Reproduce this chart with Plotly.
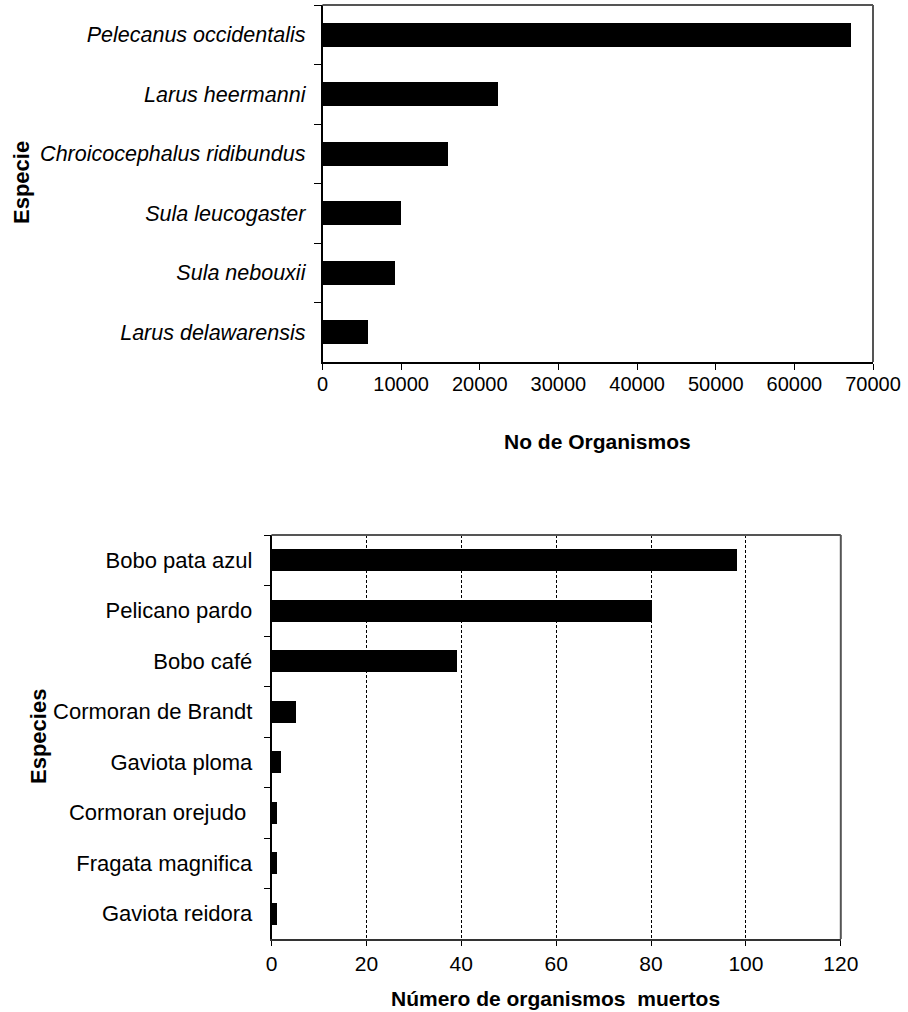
import plotly.graph_objects as go

# Upper panel: total organisms per species
especies_sup = [
    "Pelecanus occidentalis",
    "Larus heermanni",
    "Chroicocephalus ridibundus",
    "Sula leucogaster",
    "Sula nebouxii",
    "Larus delawarensis",
]
organismos_sup = [67100, 22200, 15900, 9900, 9200, 5700]
ticks_sup = [0, 10000, 20000, 30000, 40000, 50000, 60000, 70000]

# Lower panel: dead organisms per species
especies_inf = [
    "Bobo pata azul",
    "Pelicano pardo",
    "Bobo café",
    "Cormoran de Brandt",
    "Gaviota ploma",
    "Cormoran orejudo\u00a0",
    "Fragata magnifica",
    "Gaviota reidora",
]
muertos_inf = [98, 80, 39, 5, 2, 1, 1, 1]
ticks_inf = [0, 20, 40, 60, 80, 100, 120]

W, H = 908, 1012
FONT = "Liberation Sans, Arial, sans-serif"


def px_x(v):
    return v / W


def px_y(v):
    return 1 - v / H


fig = go.Figure()

fig.add_trace(go.Bar(
    x=organismos_sup, y=especies_sup, orientation="h",
    marker=dict(color="black", line=dict(width=0)),
    width=0.40, xaxis="x", yaxis="y", showlegend=False,
))
fig.add_trace(go.Bar(
    x=muertos_inf, y=especies_inf, orientation="h",
    marker=dict(color="black", line=dict(width=0)),
    width=0.44, xaxis="x2", yaxis="y2", showlegend=False,
))

fig.update_layout(
    width=W, height=H, autosize=False,
    margin=dict(l=0, r=0, t=0, b=0, pad=0),
    paper_bgcolor="white", plot_bgcolor="white",
    font=dict(family=FONT, color="black"),
    bargap=0,
    xaxis=dict(
        domain=[px_x(322.5), px_x(873)], anchor="y", automargin=False,
        range=[0, 70000], tickvals=ticks_sup,
        ticktext=[str(t) for t in ticks_sup],
        ticks="outside", ticklen=6, tickwidth=1.2, tickcolor="black",
        showline=True, linecolor="black", linewidth=1.5,
        showgrid=False, zeroline=False,
        ticklabelstandoff=-3,
        tickfont=dict(size=20, family=FONT),
    ),
    yaxis=dict(
        domain=[px_y(362), px_y(5)], anchor="x", automargin=False,
        type="category", categoryorder="array", categoryarray=especies_sup,
        range=[len(especies_sup) - 0.5, -0.5],
        tickson="boundaries", ticks="outside", ticklen=7, tickwidth=1.2,
        tickcolor="black",
        showline=True, linecolor="black", linewidth=1.5,
        showgrid=False, zeroline=False,
        ticklabelstandoff=11,
        tickfont=dict(size=21.5, family=FONT, style="italic"),
    ),
    xaxis2=dict(
        domain=[px_x(271.5), px_x(840.8)], anchor="y2", automargin=False,
        range=[0, 120], tickvals=ticks_inf,
        ticktext=[str(t) for t in ticks_inf],
        ticks="outside", ticklen=5, tickwidth=1.2, tickcolor="black",
        showline=True, linecolor="#333333", linewidth=2,
        showgrid=True, gridcolor="black", gridwidth=1, griddash="3px,2px",
        zeroline=False,
        tickfont=dict(size=21, family=FONT),
    ),
    yaxis2=dict(
        domain=[px_y(939), px_y(535)], anchor="x2", automargin=False,
        type="category", categoryorder="array", categoryarray=especies_inf,
        range=[len(especies_inf) - 0.5, -0.5],
        tickson="boundaries", ticks="outside", ticklen=6, tickwidth=1.2,
        tickcolor="black",
        showline=True, linecolor="black", linewidth=1.5,
        showgrid=False, zeroline=False,
        ticklabelstandoff=13,
        tickfont=dict(size=22, family=FONT),
    ),
)

# Frame: top and right edges of each panel
frame = dict(color="#555555", width=2)
for xr, yr in (("x domain", "y domain"), ("x2 domain", "y2 domain")):
    fig.add_shape(type="line", xref=xr, yref=yr, x0=0, x1=1, y0=1, y1=1, line=frame)
    fig.add_shape(type="line", xref=xr, yref=yr, x0=1, x1=1, y0=0, y1=1, line=frame)

# Axis titles
fig.add_annotation(
    text="<b>No de Organismos</b>", xref="paper", yref="paper",
    x=px_x(597.5), y=px_y(442), xanchor="center", yanchor="middle",
    showarrow=False, font=dict(size=21, family=FONT),
)
fig.add_annotation(
    text="<b>Especie</b>", xref="paper", yref="paper",
    x=px_x(22), y=px_y(183), xanchor="center", yanchor="middle",
    textangle=-90, showarrow=False, font=dict(size=22, family=FONT),
)
fig.add_annotation(
    text="<b>Número de organismos\u00a0 muertos</b>", xref="paper", yref="paper",
    x=px_x(555), y=px_y(998), xanchor="center", yanchor="middle",
    showarrow=False, font=dict(size=21, family=FONT),
)
fig.add_annotation(
    text="<b>Especies</b>", xref="paper", yref="paper",
    x=px_x(38), y=px_y(737), xanchor="center", yanchor="middle",
    textangle=-90, showarrow=False, font=dict(size=22, family=FONT),
)

fig.write_html(
    "out.html",
    config={"responsive": False},
    post_script="document.body.style.margin='0';",
)
